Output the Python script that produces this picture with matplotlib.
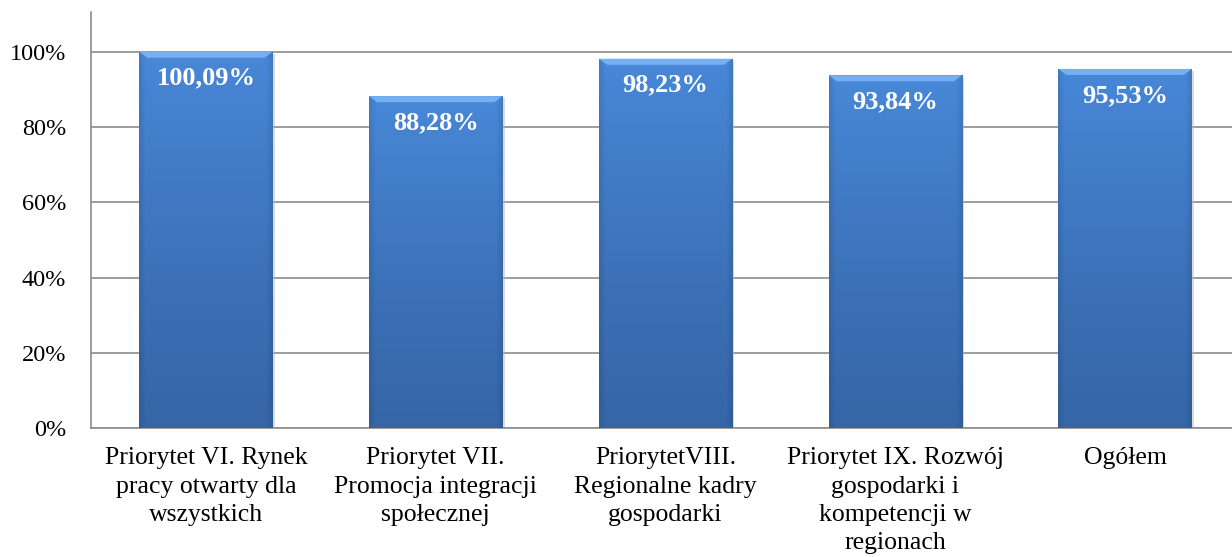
import numpy as np
import matplotlib
matplotlib.use("Agg")
import matplotlib.pyplot as plt
from matplotlib.patches import Polygon, Rectangle
from matplotlib.ticker import FuncFormatter

categories = [
    "Priorytet VI. Rynek\npracy otwarty dla\nwszystkich",
    "Priorytet VII.\nPromocja integracji\nspołecznej",
    "PriorytetVIII.\nRegionalne kadry\ngospodarki",
    "Priorytet IX. Rozwój\ngospodarki i\nkompetencji w\nregionach",
    "Ogółem",
]
values = [100.09, 88.28, 98.23, 93.84, 95.53]
value_labels = ["100,09%", "88,28%", "98,23%", "93,84%", "95,53%"]
yticks = [0, 20, 40, 60, 80, 100]

plt.rcParams["font.family"] = ["Liberation Serif", "DejaVu Serif"]

fig = plt.figure(figsize=(12.32, 5.57), dpi=100)
ax = fig.add_axes([0.0739, 0.2316, 0.9326, 0.7464])

x = np.arange(len(values))
width = 0.58
bars = ax.bar(x, values, width=width, color="none", edgecolor="none", zorder=3)

# gradient fill: lighter at the top, darker toward the bottom, darker side edges
nx, ny = 200, 200
u = np.linspace(-1, 1, nx)
v = np.linspace(0, 1, ny)[:, None]
top_col = np.array([0x48, 0x88, 0xd8]) / 255
bot_col = np.array([0x36, 0x66, 0xa8]) / 255
edge = 1 - 0.10 * np.clip((np.abs(u) - 0.9) / 0.1, 0, 1)
img = np.zeros((ny, nx, 3))
for c in range(3):
    img[:, :, c] = (bot_col[c] + (top_col[c] - bot_col[c]) * v ** 1.2) * edge
img = np.clip(img, 0, 1)

bev_x = 0.035
bev_y = 1.6
for rect, val in zip(bars, values):
    x0 = rect.get_x()
    w = rect.get_width()
    h = rect.get_height()
    # soft shadow on the right
    ax.add_patch(Rectangle((x0 + 0.01, 0), w, h - 0.6, color="#b8b8b8",
                           alpha=0.5, zorder=2, lw=0))
    im = ax.imshow(img, extent=(x0, x0 + w, 0, h), origin="lower",
                   aspect="auto", zorder=3)
    im.set_clip_path(rect)
    # bevel: light top
    ax.add_patch(Polygon([(x0, h), (x0 + w, h), (x0 + w - bev_x, h - bev_y),
                          (x0 + bev_x, h - bev_y)], closed=True,
                         color="#74b0f2", lw=0, zorder=4))

for xi, val, lab in zip(x, values, value_labels):
    ax.text(xi, val - 4.0, lab, ha="center", va="top", color="white",
            fontsize=19, fontweight="bold", zorder=5)

ax.set_xlim(-0.5, len(values) - 0.5)
ax.set_ylim(0, 110.6)
ax.set_yticks(yticks)
ax.yaxis.set_major_formatter(FuncFormatter(lambda v, p: f"{v:.0f}%"))
ax.set_xticks(x)
ax.set_xticklabels(categories, fontsize=18.5, linespacing=1.36)
ax.tick_params(axis="y", labelsize=17.5, length=0, pad=18)
ax.tick_params(axis="x", length=0, pad=14)

ax.grid(axis="y", color="#8c8c8c", lw=1.2, zorder=1)
ax.set_axisbelow(True)
for s in ["top", "right"]:
    ax.spines[s].set_visible(False)
for s in ["left", "bottom"]:
    ax.spines[s].set_color("#8c8c8c")
    ax.spines[s].set_linewidth(1.2)

fig.savefig("out.png", dpi=100)
